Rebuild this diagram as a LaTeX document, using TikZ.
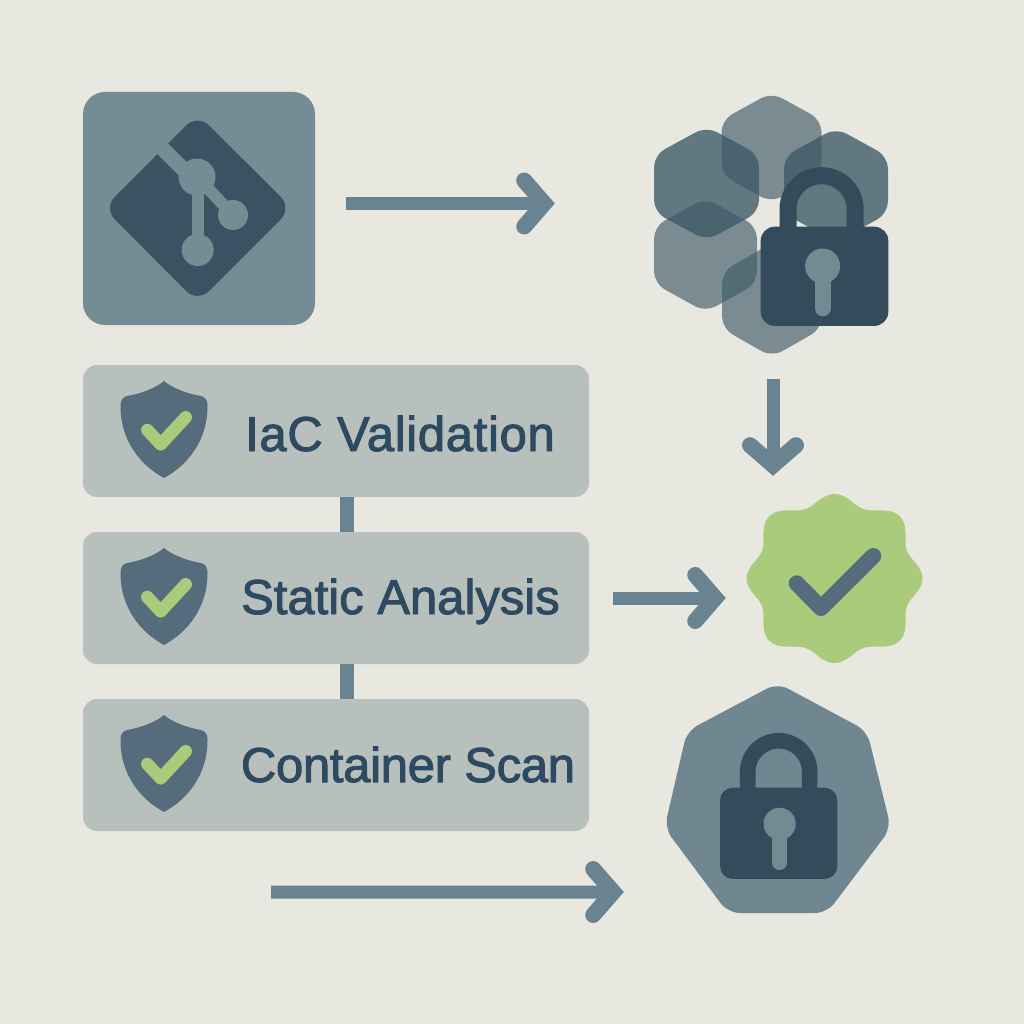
\documentclass[tikz,border=0pt]{standalone}
\usepackage{fontspec}
\setmainfont[FakeBold=2]{Liberation Sans}
\usetikzlibrary{arrows.meta}
\definecolor{bgc}{HTML}{E8E7E0}
\definecolor{tilec}{HTML}{768C95}
\definecolor{darkc}{HTML}{3B5263}
\definecolor{lockc}{HTML}{344B5C}
\definecolor{holec}{HTML}{738A93}
\definecolor{stagec}{HTML}{B8C0BE}
\definecolor{shieldc}{HTML}{546C7C}
\definecolor{greenc}{HTML}{A9CB7B}
\definecolor{textc}{HTML}{2E4A60}
\definecolor{flowc}{HTML}{6A8391}
\definecolor{hexc}{HTML}{3C5A66}
\definecolor{heptc}{HTML}{708791}
\tikzset{
  tilebox/.style={draw=none,fill=tilec,rounded corners=22pt,minimum width=232pt,minimum height=233pt,inner sep=0pt},
  stagebox/.style={draw=none,fill=stagec,rounded corners=14pt,minimum width=506pt,minimum height=132pt,inner sep=0pt},
  ghost/.style={draw=none,fill=none,inner sep=0pt},
  flow/.style={draw=flowc,line width=13pt,-{Straight Barb[length=20pt,width=46pt,line width=16pt,line cap=round,line join=miter]}},
  link/.style={draw=flowc,line width=14pt},
  label/.style={text=textc,font=\fontsize{49}{49}\selectfont,anchor=base,inner sep=0pt},
  hexlight/.style={fill=hexc,fill opacity=.64,rounded corners=12pt},
  hexdark/.style={fill=hexc,fill opacity=.78,rounded corners=12pt},
  tick/.style={line cap=round,line join=round}
}
\newcommand{\hexa}[5]{% style, cx, cy, half width, half height
  \path[#1] (#2,#3-#5) -- (#2+#4,#3-#5/2) -- (#2+#4,#3+#5/2) -- (#2,#3+#5) -- (#2-#4,#3+#5/2) -- (#2-#4,#3-#5/2) -- cycle;}
\newcommand{\padlock}[4]{% x, y of body centre, scale, shackle offset
  \begin{scope}[shift={(#1,#2)},x=#3pt,y=-#3pt]
    \draw[lockc,line width=#3*17pt] (#4-33.6,0) -- (#4-33.6,-67) arc[start angle=180,end angle=360,radius=33.6] -- (#4+33.6,0);
    \fill[lockc,rounded corners=#3*14pt] (-63.8,-49.6) rectangle (63.8,49.6);
    \fill[holec] (#4+1,-10.3) circle[radius=17.5];
    \draw[holec,line width=#3*16pt,line cap=round] (#4+1,-5) -- (#4+1,32);
  \end{scope}}
\newcommand{\shieldmark}[1]{%
  \begin{scope}[yshift=-#1pt]
    \fill[shieldc] (164,381) .. controls (172,388) and (188,394) .. (201,396)
      .. controls (205,397) and (207.5,400) .. (207.5,405)
      .. controls (208,440) and (188,465) .. (164,478)
      .. controls (140,465) and (120,440) .. (120.5,405)
      .. controls (120.5,400) and (123,397) .. (127,396)
      .. controls (140,394) and (156,388) .. (164,381) -- cycle;
    \draw[greenc,line width=12.5pt,tick] (147.3,430) -- (160.7,444.3) -- (185.7,417.3);
  \end{scope}}
\begin{document}
\begin{tikzpicture}[x=1pt,y=-1pt]
\useasboundingbox (0,0) rectangle (1024,1024);
\fill[bgc] (0,0) rectangle (1024,1024);

% git tile
\node[tilebox] (git) at (199,208.5) {};
\fill[darkc,rounded corners=16pt] (197.5,114) -- (292,208) -- (197.5,302.5) -- (103.5,208) -- cycle;
\draw[tilec,line width=15pt] (150,136) -- (197,183);
\draw[tilec,line width=12pt] (197,177) -- (233,215);
\draw[tilec,line width=12pt] (197.7,177) -- (197.7,250);
\fill[tilec] (197,177) circle[radius=18.5];
\fill[tilec] (233,215) circle[radius=15];
\fill[tilec] (197.7,250) circle[radius=16];

% hexagon cluster
\node[ghost,minimum width=234pt,minimum height=260pt] (hexes) at (771,225) {};
\hexa{hexlight}{771.5}{147.5}{50}{55}
\hexa{hexdark}{706.5}{183.5}{52.5}{57}
\hexa{hexdark}{836}{185}{52}{57}
\hexa{hexlight}{705.5}{255}{51.5}{57}
\hexa{hexlight}{772}{300}{50}{57}
\padlock{824.5}{276.3}{1}{-2.9}

% stages
\node[stagebox] (stage1) at (336,431) {};
\node[stagebox] (stage2) at (336,598) {};
\node[stagebox] (stage3) at (336,765) {};
\draw[link] (stage1.south -| 347,0) -- (stage2.north -| 347,0);
\draw[link] (stage2.south -| 347,0) -- (stage3.north -| 347,0);
\shieldmark{0}
\shieldmark{167}
\shieldmark{334}
\node[label] (t1) at (400,451) {\addfontfeatures{LetterSpace=1.4}IaC Validation};
\node[label] (t2) at (400.5,614) {Static Analysis};
\node[label] (t3) at (408,782) {\addfontfeatures{LetterSpace=-0.6}Container Scan};

% badge
\node[ghost,minimum width=177pt,minimum height=169pt] (badge) at (834.5,578.5) {};
\fill[greenc,smooth] plot[domain=0:360,samples=145,variable=\t]
  ({834.5+(84+6*cos(8*\t)-2*cos(4*\t))*cos(\t)},{578.5+0.96*(84+6*cos(8*\t)-2*cos(4*\t))*sin(\t)}) -- cycle;
\draw[draw=shieldc,line width=16pt,tick] (796.7,583.3) -- (821,608) -- (873.3,556);

% heptagon
\node[ghost,minimum width=222pt,minimum height=226pt] (hept) at (778,799) {};
\fill[heptc,rounded corners=12pt] (777.5,683) -- (867,731) -- (891,828) -- (827,913) -- (728,913) -- (664.5,828) -- (687,731) -- cycle;
\padlock{778.7}{833.3}{0.92}{0}

% flow arrows
\draw[flow] ([shift={(31,-5)}]git.east) -- ([shift={(-99,-21.5)}]hexes.west);
\draw[flow] ([shift={(2,24)}]hexes.south) -- ([shift={(-61.5,-18)}]badge.north);
\draw[flow] ([shift={(24,0)}]stage2.east) -- ([shift={(-20,19.5)}]badge.west);
\draw[flow] ([shift={(-65,61)}]stage3.south) -- ([shift={(-43,93)}]hept.west);
\end{tikzpicture}
\end{document}
